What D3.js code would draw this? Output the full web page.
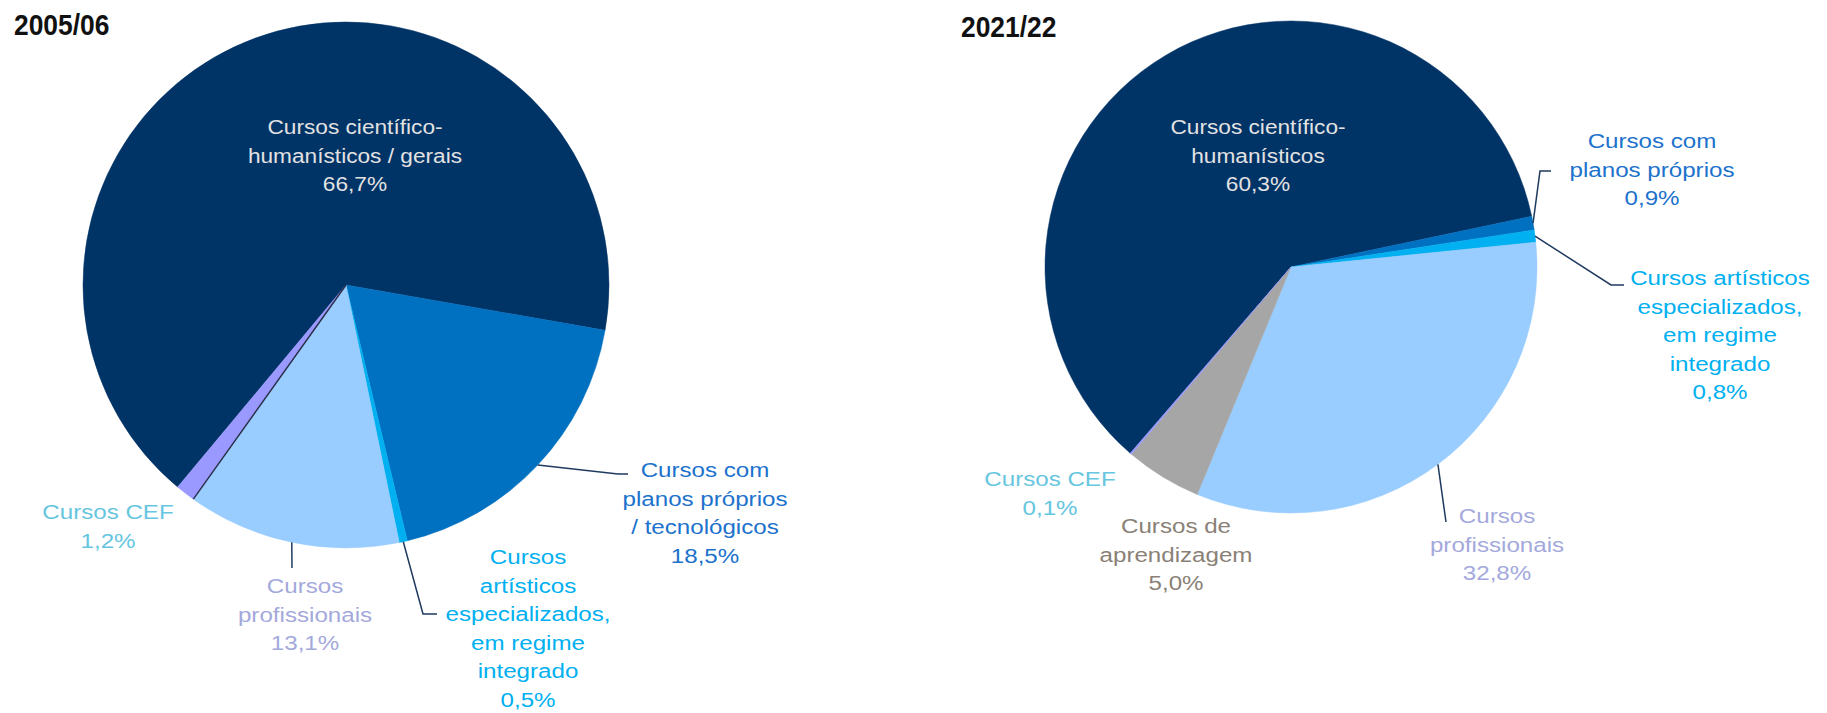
<!DOCTYPE html>
<html>
<head>
<meta charset="utf-8">
<script src="https://cdn.jsdelivr.net/npm/d3@7"></script>
<style>
  html, body { margin: 0; padding: 0; background: #fff; }
  svg text { font-family: "Liberation Sans", Arial, sans-serif; }
</style>
</head>
<body>
<div id="chart"></div>
<script>
// slices, in the order Excel drew them (clockwise)
const cats05 = ["Cursos científico-humanísticos / gerais", "Cursos com planos próprios / tecnológicos",
  "Cursos artísticos especializados, em regime integrado", "Cursos profissionais", "Cursos CEF"];
const vals05 = [66.7, 18.5, 0.5, 13.1, 1.2];

const cats21 = ["Cursos científico-humanísticos", "Cursos com planos próprios",
  "Cursos artísticos especializados, em regime integrado", "Cursos profissionais",
  "Cursos de aprendizagem", "Cursos CEF"];
const vals21 = [60.3, 0.9, 0.8, 32.8, 5.0, 0.1];

// label text as broken in the picture
const lines05 = [["Cursos científico-", "humanísticos / gerais"], ["Cursos com", "planos próprios", "/ tecnológicos"],
  ["Cursos", "artísticos", "especializados,", "em regime", "integrado"], ["Cursos", "profissionais"], ["Cursos CEF"]];
const lines21 = [["Cursos científico-", "humanísticos"], ["Cursos com", "planos próprios"],
  ["Cursos artísticos", "especializados,", "em regime", "integrado"], ["Cursos", "profissionais"],
  ["Cursos de", "aprendizagem"], ["Cursos CEF"]];

const titles = ["2005/06", "2021/22"];

const width = 1827, height = 713;
const svg = d3.select("#chart").append("svg")
  .attr("width", width).attr("height", height);

const fmt = v => d3.format(".1f")(v).replace(".", ",") + "%";
const lineH = 28.5;

// layout for each chart (positions only)
const charts = [
  {
    title: titles[0], tx: 14, ty: 35,
    cats: cats05, vals: vals05, lines: lines05,
    cx: 346, cy: 285, r: 263, start: 219.8,
    fills: ["#003366", "#0070c0", "#00b0f0", "#99ccff", "#9999ff"],
    textCol: ["#e2e2e2", "#1c72cc", "#00b0f0", "#a4a9dc", "#66c6df"],
    labels: [
      {x: 355, y: 127, sx: 1.08},
      {x: 705, y: 470, lead: [[618, 474], [628, 474]]},
      {x: 528, y: 557, lead: [[423, 614], [437, 614]]},
      {x: 305, y: 586, lead: [[292, 568]]},
      {x: 108, y: 512}
    ],
    divider: 3
  },
  {
    title: titles[1], tx: 961, ty: 37,
    cats: cats21, vals: vals21, lines: lines21,
    cx: 1291, cy: 267, r: 246, start: 220.8,
    fills: ["#003366", "#0070c0", "#00b0f0", "#99ccff", "#a6a6a6", "#9999ff"],
    textCol: ["#e2e2e2", "#1c72cc", "#00b0f0", "#a4a9dc", "#8a8176", "#66c6df"],
    labels: [
      {x: 1258, y: 127, sx: 1.08},
      {x: 1652, y: 141, lead: [[1540, 171], [1551, 171]]},
      {x: 1720, y: 278, lead: [[1611, 285], [1624, 285]]},
      {x: 1497, y: 516, lead: [[1446, 522]]},
      {x: 1176, y: 526},
      {x: 1050, y: 479}
    ],
    divider: null
  }
];

charts.forEach(c => {
  svg.append("text")
    .attr("transform", `translate(${c.tx},${c.ty}) scale(0.88,1)`)
    .attr("font-size", 30).attr("font-weight", "bold")
    .attr("fill", "#111")
    .text(c.title);

  const rad = c.start * Math.PI / 180;
  const pie = d3.pie().sort(null).value(d => d)
    .startAngle(rad).endAngle(rad + 2 * Math.PI);
  const arcs = pie(c.vals);
  const arc = d3.arc().innerRadius(0).outerRadius(c.r);

  const g = svg.append("g").attr("transform", `translate(${c.cx},${c.cy})`);

  g.selectAll("path.slice")
    .data(arcs)
    .join("path")
    .attr("class", "slice")
    .attr("d", arc)
    .attr("fill", (d, i) => c.fills[i])
    .attr("stroke", (d, i) => c.fills[i])
    .attr("stroke-width", 0.5)
    .append("title").text((d, i) => c.cats[i] + " " + fmt(d.data));

  // thin dark edge between CEF and profissionais (left pie)
  if (c.divider !== null) {
    const a = arcs[c.divider].endAngle;
    const p = d3.pointRadial(a, c.r);
    g.append("line")
      .attr("x1", 0).attr("y1", 0).attr("x2", p[0]).attr("y2", p[1])
      .attr("stroke", "#2a2f48").attr("stroke-width", 1.4);
  }

  // leader lines start on the rim at the slice middle
  arcs.forEach((d, i) => {
    const lab = c.labels[i];
    if (!lab.lead) return;
    const mid = (d.startAngle + d.endAngle) / 2;
    const p = d3.pointRadial(mid, c.r);
    const pts = [[c.cx + p[0], c.cy + p[1]]].concat(lab.lead);
    svg.append("path")
      .attr("d", d3.line()(pts))
      .attr("fill", "none")
      .attr("stroke", "#1f3a5f")
      .attr("stroke-width", 1.5);
  });

  // data labels (the source text is a little wider than Arial)
  arcs.forEach((d, i) => {
    const lab = c.labels[i];
    const sx = lab.sx === undefined ? 1.15 : lab.sx;
    const txt = c.lines[i].concat([fmt(d.data)]);
    const t = svg.append("text")
      .attr("transform", `translate(${lab.x},${lab.y}) scale(${sx},1)`)
      .attr("text-anchor", "middle")
      .attr("font-size", 21)
      .attr("fill", c.textCol[i]);
    txt.forEach((s, k) => {
      t.append("tspan")
        .attr("x", 0)
        .attr("y", k * lineH)
        .attr("dy", "0.35em")
        .text(s);
    });
  });
});
</script>
</body>
</html>
